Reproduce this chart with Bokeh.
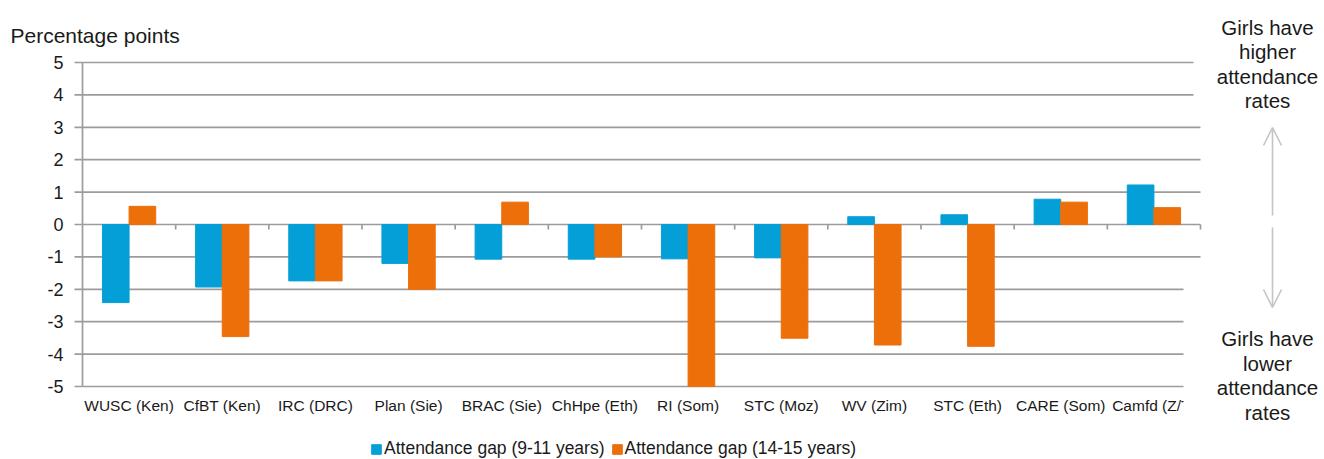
from bokeh.plotting import figure
from bokeh.models import (Range1d, Legend, LegendItem, Arrow, OpenHead, ColumnDataSource)
from bokeh.core.properties import value
from bokeh.embed import file_html
from bokeh.resources import INLINE

categories = ["WUSC (Ken)", "CfBT (Ken)", "IRC (DRC)", "Plan (Sie)", "BRAC (Sie)", "ChHpe (Eth)",
              "RI (Som)", "STC (Moz)", "WV (Zim)", "STC (Eth)", "CARE (Som)", "Camfd (Z/T)"]
gap_9_11 = [-2.41, -1.93, -1.74, -1.20, -1.07, -1.07, -1.06, -1.03, 0.24, 0.30, 0.78, 1.22]
gap_14_15 = [0.56, -3.46, -1.74, -2.00, 0.69, -1.00, -5.00, -3.51, -3.72, -3.76, 0.69, 0.52]
y_ticks = [-5, -4, -3, -2, -1, 0, 1, 2, 3, 4, 5]
series_names = ["Attendance gap (9-11 years)", "Attendance gap (14-15 years)"]

BLUE = "#049fd6"
ORANGE = "#ec6f0a"
GRID = "#9c9c9c"
ARROW = "#c4c4c4"
TXT = "#1a1a1a"
FONT = "Liberation Sans"

W, H = 1324, 459
# pixel layout of the plotting area
LEFT_PX, RIGHT_PX = 82, 1200
ZERO_PX, UNIT_PX = 224, 32.4

n = len(categories)
cat_px = (RIGHT_PX - LEFT_PX) / n
xpx = lambda px: (px - LEFT_PX) / cat_px        # screen px -> data x
ypx = lambda py: (ZERO_PX - py) / UNIT_PX       # screen px -> data y

p = figure(width=W, height=H, output_backend="svg", toolbar_location=None,
           x_range=Range1d(xpx(0), xpx(W)), y_range=Range1d(ypx(H), ypx(0)),
           x_axis_location=None, y_axis_location=None,
           min_border=0)
p.outline_line_color = None
p.grid.visible = False

ymin, ymax = min(y_ticks), max(y_ticks)

# horizontal gridlines
p.segment(x0=[0] * len(y_ticks), x1=[n] * len(y_ticks), y0=y_ticks, y1=y_ticks,
          line_color=GRID, line_width=1.7)
# y axis line + ticks
p.segment(x0=[0], x1=[0], y0=[ymin], y1=[ymax], line_color=GRID, line_width=1.7)
p.segment(x0=[xpx(LEFT_PX - 8)] * len(y_ticks), x1=[0] * len(y_ticks), y0=y_ticks, y1=y_ticks,
          line_color=GRID, line_width=1.7)
p.text(x=[xpx(LEFT_PX - 19)] * len(y_ticks), y=y_ticks, text=[str(t) for t in y_ticks],
       text_align="right", text_baseline="middle", text_font=value(FONT),
       text_font_size="18px", text_color=TXT)

# category boundary ticks on the zero line
bounds = list(range(1, n + 1))
p.segment(x0=bounds, x1=bounds, y0=[0] * n, y1=[ypx(ZERO_PX + 5)] * n,
          line_color=GRID, line_width=1.7)

# bars
centers = [i + 0.5 for i in range(n)]
bw = 0.286
src = ColumnDataSource(dict(xb=[c - bw / 2 for c in centers], xo=[c + bw / 2 for c in centers],
                            b=gap_9_11, o=gap_14_15, c=centers, lab=categories))
rb = p.vbar(x="xb", top="b", bottom=0, width=bw, color=BLUE, source=src)
ro = p.vbar(x="xo", top="o", bottom=0, width=bw, color=ORANGE, source=src)

# category labels
p.text(x="c", y=ypx(405), text="lab", source=src, text_align="center", text_baseline="middle",
       text_font=value(FONT), text_font_size="15.5px", text_color=TXT)

# y title
p.text(x=[xpx(10)], y=[ypx(35)], text=["Percentage points"], text_align="left",
       text_baseline="middle", text_font=value(FONT), text_font_size="21px", text_color=TXT)

# white boxes behind the side notes
p.quad(left=[xpx(1193), xpx(1183)], right=[xpx(W), xpx(W)],
       top=[ypx(0), ypx(278)], bottom=[ypx(112), ypx(H)],
       fill_color="white", line_color=None)

tx = xpx(1267)
ax = xpx(1272)
up_lines = ["Girls have", "higher", "attendance", "rates"]
dn_lines = ["Girls have", "lower", "attendance", "rates"]
p.text(x=[tx] * 4, y=[ypx(27 + 24.4 * i) for i in range(4)], text=up_lines,
       text_align="center", text_baseline="middle", text_font=value(FONT),
       text_font_size="20.5px", text_color=TXT)
p.text(x=[tx] * 4, y=[ypx(338 + 24.6 * i) for i in range(4)], text=dn_lines,
       text_align="center", text_baseline="middle", text_font=value(FONT),
       text_font_size="20.5px", text_color=TXT)

p.add_layout(Arrow(x_start=ax, y_start=ypx(215), x_end=ax, y_end=ypx(127),
                   line_color=ARROW, line_width=1.6,
                   end=OpenHead(size=18, line_color=ARROW, line_width=1.6)))
p.add_layout(Arrow(x_start=ax, y_start=ypx(227), x_end=ax, y_end=ypx(307),
                   line_color=ARROW, line_width=1.6,
                   end=OpenHead(size=18, line_color=ARROW, line_width=1.6)))

legend = Legend(items=[LegendItem(label=series_names[0], renderers=[rb]),
                       LegendItem(label=series_names[1], renderers=[ro])],
                orientation="horizontal", location=(370, 0))
legend.label_text_font = FONT
legend.label_text_font_size = "17.5px"
legend.label_text_color = TXT
legend.glyph_width = 12
legend.glyph_height = 12
legend.label_standoff = 2
legend.spacing = 6
legend.padding = 2
legend.margin = 0
legend.border_line_color = None
legend.background_fill_alpha = 0
p.add_layout(legend)

open("out.html", "w").write(file_html(p, INLINE))
